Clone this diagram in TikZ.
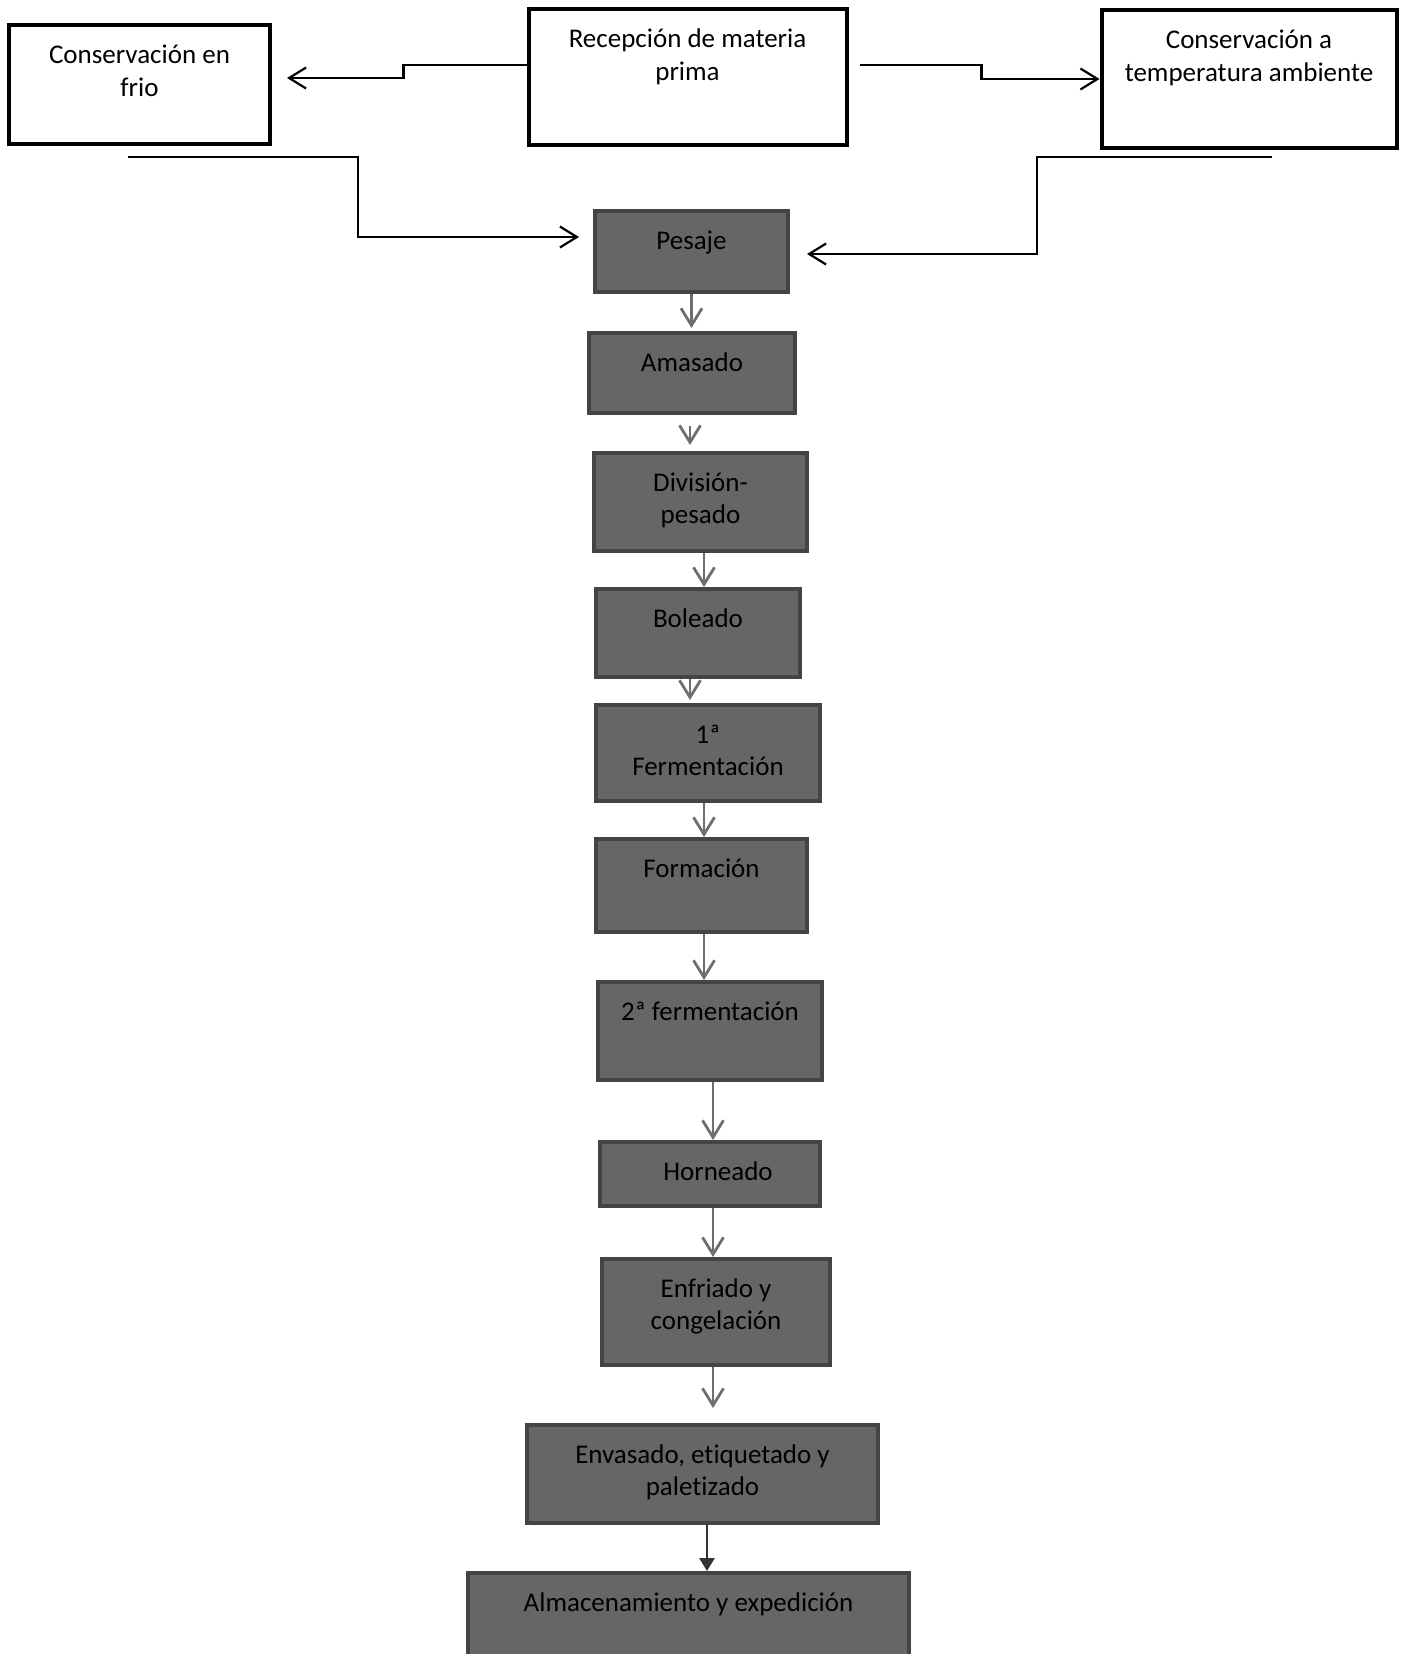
\documentclass[tikz,border=0pt]{standalone}
\usepackage{fontspec}
\setmainfont{Carlito}[Ligatures=NoCommon]
\usetikzlibrary{arrows.meta}
\definecolor{stagefill}{HTML}{666666}
\definecolor{stageline}{HTML}{444444}
\definecolor{flowgray}{HTML}{6E6E6E}
\definecolor{lastgray}{HTML}{333333}

\begin{document}
\begin{tikzpicture}[>={Straight Barb[length=17pt,width=21pt]}, x=1pt, y=-1pt]
    \tikzset{store/.style = {shape=rectangle, draw=black, line width=4pt, fill=white, inner sep=0pt},
             stage/.style = {shape=rectangle, draw=stageline, line width=4pt, fill=stagefill, inner sep=0pt},
             caption/.style = {anchor=base, yshift=-40pt, inner sep=0pt, align=center, text=black,
                               font=\fontsize{27}{32.7}\selectfont},
             caption2/.style = {caption, yshift=-32.7pt}}

    \useasboundingbox (0,0) rectangle (1401,1654);

    \node[store, minimum width=261pt, minimum height=118pt, label={[caption2]north:{Conservación en\\frio}}] (frio) at (139.5,84.5) {};
    \node[store, minimum width=318pt, minimum height=135pt, label={[caption2]north:{Recepción de materia\\prima}}] (recep) at (687.5,77) {};
    \node[store, minimum width=295pt, minimum height=137pt, label={[caption2]north:{Conservación a\\temperatura ambiente}}] (amb) at (1249,79) {};

    \coordinate (frioout) at (128,157);
    \coordinate (ambout) at (1272,157);

    \node[stage, minimum width=193pt, minimum height=81pt, label={[caption]north:Pesaje}] (pesaje) at (691.5,251.5) {};
    \node[stage, minimum width=206pt, minimum height=80pt, label={[caption]north:Amasado}] (amasado) at (692,373) {};
    \node[stage, minimum width=213pt, minimum height=98pt, label={[caption2]north:{División-\\pesado}}] (division) at (700.5,502) {};
    \node[stage, minimum width=204pt, minimum height=88pt, label={[caption]north:Boleado}] (boleado) at (698,633) {};
    \node[stage, minimum width=224pt, minimum height=96pt, label={[caption2]north:{1ª\\Fermentación}}] (ferm1) at (708,753) {};
    \node[stage, minimum width=211pt, minimum height=93pt, label={[caption]north:Formación}] (formacion) at (701.5,885.5) {};
    \node[stage, minimum width=224pt, minimum height=98pt, label={[caption]north:2ª fermentación}] (ferm2) at (710,1031) {};
    \node[stage, minimum width=220pt, minimum height=64pt, label={[caption, xshift=8pt]north:Horneado}] (horneado) at (710,1174) {};
    \node[stage, minimum width=228pt, minimum height=106pt, label={[caption2]north:{Enfriado y\\congelación}}] (enfriado) at (716,1312) {};
    \node[stage, minimum width=351pt, minimum height=98pt, label={[caption2]north:{Envasado, etiquetado y\\paletizado}}] (envasado) at (702.5,1474) {};
    \node[stage, minimum width=441pt, minimum height=134pt, label={[caption]north:Almacenamiento y expedición}] (almacen) at (688.5,1640) {};

    % reception to both stores
    \draw[->, line width=2.2pt, shorten >=15pt] ([yshift=12pt]recep.west) -- ++(-123,0) |- ([yshift=6.5pt]frio.east);
    \draw[->, line width=2.2pt] ([xshift=11pt, yshift=12pt]recep.east) -- ++(122,0) |- (amb.west);

    % stores to weighing
    \draw[->, line width=2.2pt, shorten >=14pt] (frioout) -- ++(230,0) |- ([yshift=14.5pt]pesaje.west);
    \draw[->, line width=2.2pt, shorten >=17pt] (ambout) -- ++(-235,0) |- ([yshift=-2.5pt]pesaje.east);

    % process line
    \draw[->, line width=2.8pt, color=flowgray, shorten >=3pt] (pesaje.south) -- (pesaje.south |- amasado.north);
    \draw[->, line width=2.8pt, color=flowgray, shorten <=11pt, shorten >=6pt] ([xshift=-2pt]amasado.south) -- ([xshift=-2pt]amasado.south |- division.north);
    \draw[->, line width=2.8pt, color=flowgray] ([xshift=3.5pt]division.south) -- ([xshift=3.5pt]division.south |- boleado.north);
    \draw[->, line width=2.8pt, color=flowgray, shorten >=3pt] ([xshift=-8pt]boleado.south) -- ([xshift=-8pt]boleado.south |- ferm1.north);
    \draw[->, line width=2.8pt, color=flowgray] ([xshift=-4pt]ferm1.south) -- ([xshift=-4pt]ferm1.south |- formacion.north);
    \draw[->, line width=2.8pt, color=flowgray] ([xshift=2.5pt]formacion.south) -- ([xshift=2.5pt]formacion.south |- ferm2.north);
    \draw[->, line width=2.8pt, color=flowgray] ([xshift=3pt]ferm2.south) -- ([xshift=3pt]ferm2.south |- horneado.north);
    \draw[->, line width=2.8pt, color=flowgray] ([xshift=3pt]horneado.south) -- ([xshift=3pt]horneado.south |- enfriado.north);
    \draw[->, line width=2.8pt, color=flowgray, shorten >=15pt] ([xshift=-3pt]enfriado.south) -- ([xshift=-3pt]enfriado.south |- envasado.north);
    \draw[-{Triangle[length=13pt,width=15pt]}, line width=2.8pt, color=lastgray]
        ([xshift=4.5pt]envasado.south) -- ([xshift=4.5pt]envasado.south |- almacen.north);
\end{tikzpicture}
\end{document}
